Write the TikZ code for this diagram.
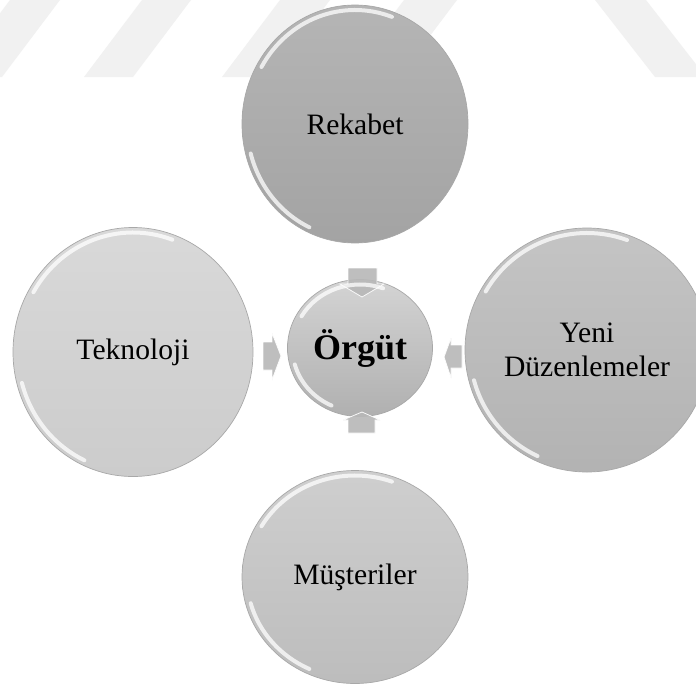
\documentclass[tikz,border=0pt]{standalone}
\usepackage{fontspec}
\setmainfont{Liberation Serif}
\usetikzlibrary{shapes.geometric,calc}
\definecolor{wm}{HTML}{F1F1F1}
\definecolor{rimline}{HTML}{A8A8A8}
\definecolor{arrowgray}{HTML}{B8B8B8}
\tikzset{
  bub/.style={ellipse, inner sep=0pt, draw=rimline, line width=0.7pt,
    font=\fontsize{29.6}{34}\selectfont, align=center, text=black},
  rim/.style={white, line width=4pt, opacity=0.75, line cap=round},
  barrow/.style={fill=arrowgray, draw=white, line width=0.8pt, opacity=0.9},
  stripe/.style={fill=wm, draw=none}
}
\newcommand\myrims[3]{%
  \draw[rim] ($(#1.center)+(150:#2-5 and #3-5)$) arc[start angle=150,end angle=70,x radius=#2-5,y radius=#3-5];
  \draw[rim] ($(#1.center)+(195:#2-5 and #3-5)$) arc[start angle=195,end angle=245,x radius=#2-5,y radius=#3-5];
}
\begin{document}
\begin{tikzpicture}[x=1pt,y=1pt]
\fill[white] (0,0) rectangle (696,-686);
\useasboundingbox (0,0) rectangle (696,-686);
% watermark stripes
\fill[stripe] (10,0) -- (60,0) -- (2,-77) -- (-48,-77) -- cycle;
\fill[stripe] (142,0) -- (191,0) -- (133,-77) -- (84,-77) -- cycle;
\fill[stripe] (280,0) -- (330,0) -- (272,-77) -- (222,-77) -- cycle;
\fill[stripe] (404,0) -- (457,0) -- (399,-77) -- (346,-77) -- cycle;
\fill[stripe] (595,0) -- (646,0) -- (706,-77) -- (655,-77) -- cycle;
% outer circles
\node[bub, minimum width=226pt, minimum height=238pt, top color=black!29, bottom color=black!36] (rek) at (355,-124) {Rekabet};
\node[bub, minimum width=244pt, minimum height=244pt, top color=black!23, bottom color=black!30] (yeni) at (587,-350) {Yeni\\Düzenlemeler};
\node[bub, minimum width=240pt, minimum height=249pt, top color=black!15, bottom color=black!20] (tek) at (133,-352) {Teknoloji};
\node[bub, minimum width=226pt, minimum height=213pt, top color=black!19, bottom color=black!26] (mus) at (355,-577) {Müşteriler};
% centre
\node[bub, minimum width=145pt, minimum height=137pt, top color=black!17, bottom color=black!31,
  font=\fontsize{36}{40}\selectfont\bfseries] (org) at (360,-348) {Örgüt};
% block arrows pointing to the centre
\filldraw[barrow] (348,-268) -- (377,-268) -- (377,-284) -- (384,-284) -- (362,-297) -- (340,-284) -- (348,-284) -- cycle;
\filldraw[barrow] (263,-342) -- (272,-342) -- (272,-333) -- (281,-356) -- (272,-380) -- (272,-370) -- (263,-370) -- cycle;
\filldraw[barrow] (462,-345) -- (451,-345) -- (451,-338) -- (444,-357) -- (451,-378) -- (451,-368) -- (462,-368) -- cycle;
\filldraw[barrow] (348,-433) -- (348,-420) -- (343,-420) -- (362,-412) -- (380,-420) -- (375,-420) -- (375,-433) -- cycle;
% glossy rims
\myrims{rek}{113}{119}
\myrims{yeni}{122}{122}
\myrims{tek}{120}{124.5}
\myrims{mus}{113}{106.5}
\myrims{org}{72.5}{68.5}
\end{tikzpicture}
\end{document}
